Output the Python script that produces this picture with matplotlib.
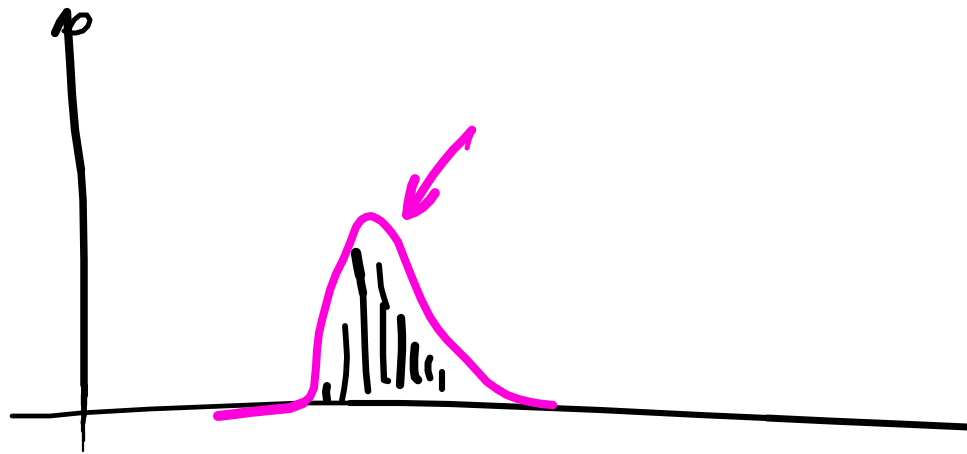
import matplotlib
matplotlib.use("Agg")
import matplotlib.pyplot as plt

# everything, in image pixels
axis_top_x = [55, 60, 67, 68, 69, 70, 72, 75, 78, 81]
axis_top_y = [33, 22, 12, 30, 45, 60, 95, 130, 150, 170]
axis_mid_x = [81, 83, 84, 84, 84]
axis_mid_y = [170, 200, 260, 320, 385]
axis_low_x = [84, 84, 84, 84, 83, 83, 83, 83]
axis_low_y = [385, 395, 405, 415, 423, 431, 440, 451]
axis_low_w = [5.0, 4.6, 4.2, 3.6, 3.0, 2.4, 1.6]
loop_x = [64, 70, 76, 83, 88, 90, 87, 80, 74, 70]
loop_y = [31, 33, 33, 31, 26, 20, 15, 15, 20, 27]

axis_x_x = [12, 50, 80, 115, 150, 200, 250, 300, 350]
axis_x_y = [416, 416, 413, 411, 409, 407, 405, 403, 403]
axis_x_w = 3.4
axis_x2_x = [350, 400, 450, 500, 600, 700, 767]
axis_x2_y = [403, 403, 404, 406, 410, 415, 418]
axis_x2_w = 4.4
axis_x3_x = [767, 830, 900, 967]
axis_x3_y = [418, 421, 424, 427]
axis_x3_w = 5.0

tail_x = [218, 235, 250, 270, 290, 303]
tail_y = [416, 414, 412, 410, 408, 403]
curve_x = [303, 310, 314, 316, 317, 319, 322, 326, 330, 336, 343, 350, 356, 361, 366, 371, 376, 381,
           386, 392, 398, 405, 413, 421, 430, 438, 447, 457, 467, 477, 487, 497]
curve_y = [403, 397, 388, 367, 350, 333, 320, 305, 290, 274, 260, 243, 227, 220, 217, 216, 218, 221,
           226, 233, 242, 260, 280, 299, 317, 329, 340, 350, 360, 371, 382, 389]
end_x = [497, 507, 518, 530, 542, 553]
end_y = [389, 395, 399, 402, 404, 405]

arrow_x = [472, 463, 453, 443, 433, 425, 418, 412, 407]
arrow_y = [130, 140, 150, 162, 175, 187, 198, 207, 215]
hook_x = [472, 469, 467]
hook_y = [132, 140, 148]
barb1_x = [415, 412, 410, 408, 407]
barb1_y = [179, 186, 195, 205, 215]
barb2_x = [407, 415, 423, 430, 435]
barb2_y = [215, 212, 207, 200, 193]

# black strokes under the curve: x list, y list, width
strokes = [
    ([327, 326, 327], [386, 392, 400], 5.8),
    ([345, 346, 347, 346, 344, 342], [326, 340, 357, 375, 390, 400], 4.2),
    ([356, 358, 360], [253, 265, 275], 7.5),
    ([360, 361, 363], [275, 283, 293], 6.0),
    ([363, 364, 365, 366, 368], [293, 320, 350, 372, 391], 4.8),
    ([379, 380, 381, 384, 387], [265, 276, 287, 298, 307], 4.2),
    ([383, 383, 383, 384, 388], [305, 330, 355, 380, 381], 4.6),
    ([401, 402, 402, 401, 400], [318, 335, 350, 368, 385], 6.0),
    ([415, 414, 414, 415, 418], [346, 358, 370, 377, 380], 6.2),
    ([430, 428, 428, 430], [358, 363, 371, 378], 5.0),
    ([442, 442, 442], [372, 380, 389], 4.4),
]

fig = plt.figure(figsize=(9.67, 4.54), dpi=100)
ax = fig.add_axes([0, 0, 1, 1])
ax.set_xlim(0, 967)
ax.set_ylim(454, 0)
ax.axis("off")


def stroke(x, y, color, lw, z=2):
    ax.plot(x, y, color=color, lw=lw, solid_capstyle="round", solid_joinstyle="round", zorder=z)


stroke(axis_top_x, axis_top_y, "black", 6.0)
stroke(axis_mid_x, axis_mid_y, "black", 5.4)
for i in range(len(axis_low_w)):
    stroke(axis_low_x[i:i + 2], axis_low_y[i:i + 2], "black", axis_low_w[i])
stroke(loop_x, loop_y, "black", 3.6)
stroke(axis_x_x, axis_x_y, "black", axis_x_w)
stroke(axis_x2_x, axis_x2_y, "black", axis_x2_w)
stroke(axis_x3_x, axis_x3_y, "black", axis_x3_w)

for sx, sy, w in strokes:
    stroke(sx, sy, "black", w)

pink = "#ff00dd"
stroke(tail_x, tail_y, pink, 7.2, z=3)
stroke(curve_x, curve_y, pink, 5.8, z=3)
stroke(end_x, end_y, pink, 6.0, z=3)
stroke(arrow_x, arrow_y, pink, 6.2, z=3)
stroke(hook_x, hook_y, pink, 3.6, z=3)
stroke(barb1_x, barb1_y, pink, 7.0, z=3)
stroke(barb2_x, barb2_y, pink, 7.0, z=3)

fig.savefig("out.png", dpi=100)
plt.close()
